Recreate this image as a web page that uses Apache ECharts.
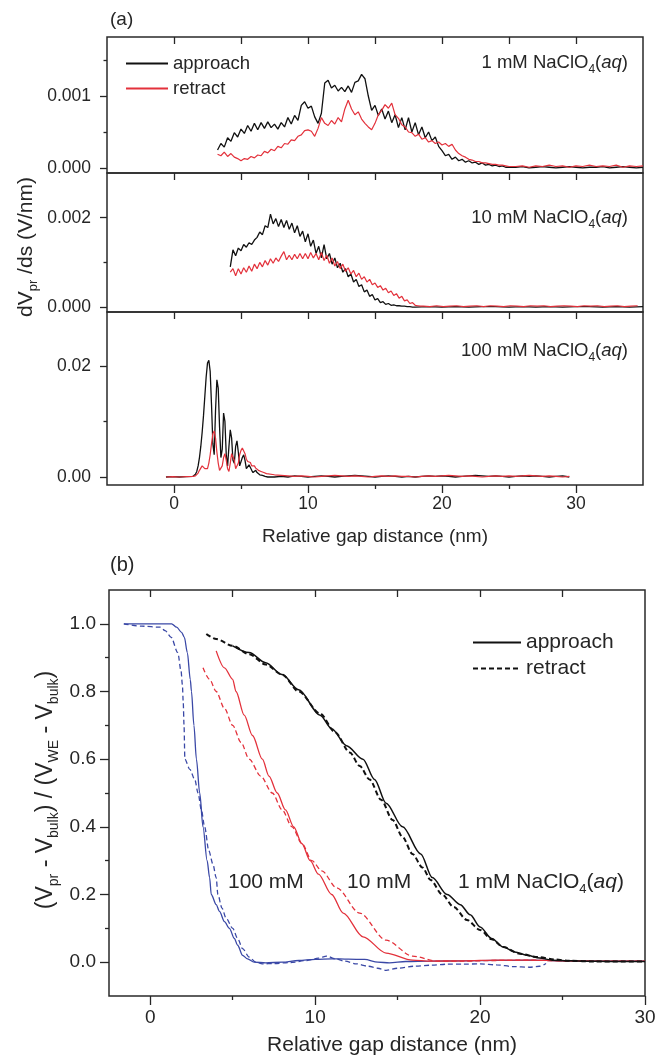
<!DOCTYPE html>
<html><head><meta charset="utf-8">
<script src="https://cdn.jsdelivr.net/npm/echarts@6/dist/echarts.min.js"></script>
<style>html,body{margin:0;padding:0;background:#fff}#c{width:655px;height:1057px}</style>
</head><body><div id="c"></div>
<script>
// ---------------- DATA ----------------
// Panel (a): dV/ds values. 1 mM & 10 mM in units of 1e-4 V/nm, 100 mM in units of 1e-3 V/nm
const U4 = 1e-4, U3 = 1e-3;
// 1 mM approach: x from 3.25 nm, step 0.25 nm
const mM1_appr = [2.5,3.4,2.9,4.2,3.7,4.9,4.3,5.4,4.8,5.9,5.1,6.2,5.3,6.3,5.5,6.4,5.6,6.1,5.4,6.3,5.7,7.0,6.1,7.3,6.6,8.7,9.2,8.3,8.6,7.1,6.2,7.6,11.8,12.2,11.1,11.5,10.7,11.2,10.6,11.4,10.5,11.9,12.1,13.0,12.4,10.0,8.0,8.7,7.3,8.2,6.8,7.9,6.3,7.4,5.6,7.0,5.3,7.0,5.0,6.3,4.6,5.7,4.2,5.0,3.8,4.3,3.0,2.4,1.7,1.9,1.2,1.5,1.0,1.2,0.8,1.0,0.7,0.8,0.5,0.7,0.4,0.5,0.3,0.4,0.2,0.3,0.1,0.1];
const mM1_apprTail = [0.1,0.2,0.0,0.1,0.2,0.1,0.0,0.1,0.2,0.1,0.0,0.1,0.1,0.2,0.0,0.1,0.2,0.1,0.0,0.1]; // x 25.5..35 step 0.5
// 1 mM retract: x from 3.25, step 0.25
const mM1_retr = [1.9,1.7,2.2,1.6,2.0,1.5,1.3,1.0,1.3,1.2,1.6,1.4,1.8,1.7,2.3,2.1,2.6,2.4,3.0,2.8,3.4,3.3,3.9,3.8,4.4,4.6,5.2,5.3,5.1,4.4,5.5,7.0,6.2,5.9,6.6,6.1,7.0,6.4,8.2,9.4,8.2,7.4,7.8,6.8,6.2,5.7,5.3,6.2,7.4,8.0,8.8,8.3,9.0,7.4,6.9,6.0,5.7,5.0,4.9,4.4,4.7,4.0,4.2,3.6,3.8,3.4,3.6,3.2,3.4,3.0,3.3,2.5,2.0,1.7,1.5,1.2,1.1,0.9,0.9,0.7,0.7,0.6,0.5,0.5,0.4,0.4,0.3,0.2];
const mM1_retrTail = [0.2,0.3,0.1,0.3,0.2,0.4,0.2,0.3,0.1,0.3,0.2,0.4,0.2,0.3,0.2,0.4,0.1,0.3,0.2,0.3]; // x 25.5..35 step 0.5
// 10 mM approach: x from 4.2, step 0.2
const mM10_appr = [9.0,12.8,11.5,13.2,12.6,14.0,13.4,14.4,14.0,15.0,15.6,16.8,16.2,18.2,17.8,20.8,18.6,19.8,18.0,19.6,17.8,19.4,17.4,18.8,16.6,18.2,15.8,17.0,14.6,16.4,13.6,15.0,12.0,13.6,11.0,14.0,10.8,12.0,9.6,11.0,8.8,9.8,7.8,8.6,6.8,7.4,5.6,6.2,4.6,5.0,3.4,3.8,2.4,2.8,1.6,1.9,1.0,1.2,0.6,0.8,0.4,0.5,0.3,0.3,0.2,0.2,0.1,0.1,0.0];
const mM10_apprTail = [0.0,0.1,0.0,0.1,0.0,0.1,0.1,0.0,0.1,0.0,0.1,0.0,0.1,0.1,0.0,0.1,0.0,0.1]; // x 18..35 step 1
// 10 mM retract: x from 4.2, step 0.2
const mM10_retr = [7.8,8.6,7.0,8.6,7.4,8.8,7.8,9.2,8.0,9.6,8.6,10.0,9.0,10.4,9.4,10.8,9.8,11.0,10.2,11.4,12.4,10.6,11.6,10.6,11.8,10.8,12.0,10.8,12.0,10.8,12.2,11.0,12.0,10.6,12.2,10.4,11.6,9.8,11.0,9.2,10.2,8.6,9.6,8.0,8.8,7.4,8.2,6.8,7.6,6.2,6.8,5.6,6.2,5.0,5.4,4.4,4.8,3.8,4.2,3.2,3.6,2.6,3.0,2.0,2.4,1.4,1.6,0.8,1.0,0.4,0.3,0.2];
const mM10_retrTail = [0.2,0.1,0.3,0.1,0.2,0.3,0.1,0.2,0.3,0.1,0.3,0.2,0.1,0.3,0.2,0.1,0.3,0.2,0.3,0.1,0.2,0.3,0.2,0.1,0.3,0.2,0.3,0.1,0.2,0.3,0.1,0.2,0.3]; // x 18.6..34.6 step 0.5
// 100 mM (units 1e-3): flat head points, then x from 1.5 step 0.1, then tail x 7.5.. step 0.5
const mM100_head = [[-0.6,0.0],[-0.1,0.05],[0.4,0.0],[0.9,0.05],[1.4,0.1]];
const mM100_appr = [0.2,0.5,1.0,2.0,3.5,5.5,8.0,11.0,14.5,18.0,20.5,21.0,19.0,13.0,6.0,4.0,12.0,17.5,16.0,9.0,3.5,5.0,11.5,10.0,4.0,2.0,5.5,8.5,7.0,3.0,2.5,5.5,6.5,4.5,2.0,2.0,3.5,4.0,3.0,1.5,1.5,2.2,2.0,1.2,0.8,1.0,1.2,0.8,0.5,0.4,0.5,0.3,0.2,0.1,0.0,0.0];
const mM100_apprTail = [0.0,0.1,0.0,0.2,0.1,0.0,0.1,0.2,0.1,0.0,0.1,0.2,0.3,0.2,0.1,0.0,0.1,0.2,0.1,0.0,0.1,0.0,0.1,0.2,0.1,0.2,0.1,0.0,0.1,0.2,0.3,0.2,0.1,0.2,0.1,0.0,0.1,0.2,0.1,0.2,0.1,0.0,0.1,0.2,0.0];
const mM100_retr = [0.1,0.2,0.4,0.7,1.2,1.6,2.0,2.2,1.5,1.2,1.5,2.5,4.0,6.0,7.8,8.3,7.0,4.5,2.5,1.2,1.0,2.0,3.5,4.2,3.0,1.5,1.0,2.5,4.2,4.5,3.0,1.5,1.3,2.5,4.0,4.8,5.2,5.0,4.2,3.2,2.8,3.0,2.6,2.0,1.8,2.0,1.6,1.3,1.2,1.3,1.0,0.8,0.8,0.7,0.6,0.6];
const mM100_retrTail = [0.4,0.3,0.2,0.1,0.2,0.1,0.0,0.1,0.2,0.3,0.2,0.1,0.2,0.1,0.0,0.1,0.2,0.1,0.2,0.1,0.1,0.0,0.1,0.2,0.1,0.2,0.3,0.2,0.1,0.2,0.1,0.0,0.1,0.2,0.1,0.2,0.1,0.2,0.3,0.2,0.1,0.2,0.1,0.0,0.1];

// Panel (b): normalized potential [x (nm), y]
const b1_appr = [[5.0,0.935],[6,0.915],[7,0.885],[8,0.85],[9,0.805],[10.3,0.73],[11.0,0.69],[11.9,0.64],[12.9,0.6],[13.6,0.54],[14.3,0.47],[15.3,0.4],[16.4,0.32],[17.1,0.25],[18.0,0.2],[18.8,0.17],[19.4,0.14],[20.0,0.104],[20.7,0.07],[21.4,0.045],[22.1,0.03],[22.9,0.02],[23.6,0.012],[24.4,0.006],[25.5,0.004],[26.4,0.003],[28,0.002],[30,0.002]];
const b1_retr = [[3.4,0.97],[4,0.955],[5,0.935],[6,0.91],[7,0.88],[8,0.85],[9,0.8],[10.3,0.735],[11.2,0.68],[12.1,0.62],[12.7,0.58],[13.3,0.54],[14.0,0.48],[14.7,0.42],[15.3,0.37],[15.9,0.32],[16.5,0.28],[17.0,0.243],[17.7,0.2],[18.4,0.163],[19.2,0.125],[20.0,0.095],[20.7,0.068],[21.4,0.045],[22.4,0.025],[23.5,0.015],[24.5,0.008],[25.4,0.004],[27,0.002],[30,0.002]];
const b10_appr = [[4.0,0.92],[4.5,0.87],[5.0,0.836],[5.2,0.8],[5.7,0.73],[6.2,0.67],[6.8,0.6],[7.2,0.55],[7.7,0.5],[8.2,0.45],[8.7,0.4],[9.2,0.35],[9.7,0.3],[10.2,0.26],[11.0,0.2],[11.7,0.145],[12.9,0.075],[14.3,0.027],[15.9,0.006],[17,0.003],[19,0.004],[21,0.006],[23,0.006],[25,0.004],[27,0.003],[30,0.003]];
const b10_retr = [[3.2,0.87],[3.6,0.836],[4.0,0.8],[4.5,0.75],[5.0,0.7],[5.5,0.65],[6.0,0.6],[6.7,0.55],[7.4,0.5],[8.0,0.45],[8.6,0.4],[9.2,0.35],[9.8,0.3],[10.4,0.27],[11.3,0.22],[12.7,0.145],[14.3,0.065],[15.9,0.018],[17.4,0.003],[19,0.003],[21,0.005],[23,0.006],[25,0.004],[27,0.003],[30,0.003]];
const b100_appr = [[-1.6,1.0],[1.3,1.0],[1.6,0.99],[1.9,0.975],[2.07,0.96],[2.25,0.915],[2.43,0.835],[2.5,0.8],[2.65,0.7],[2.8,0.6],[3.0,0.5],[3.2,0.4],[3.45,0.3],[3.6,0.25],[3.7,0.2],[4.0,0.17],[4.2,0.15],[4.5,0.12],[4.8,0.1],[5.1,0.07],[5.3,0.05],[5.6,0.02],[5.9,0.01],[6.3,0.0],[7,-0.002],[8,0.0],[9,0.005],[10,0.008],[11,0.01],[12,0.009],[13,0.008],[13.8,0.0],[14.5,-0.002],[15.5,0.002],[17,0.003],[19,0.004],[21,0.005],[23,0.006],[25,0.004],[27,0.003],[30,0.003]];
const b100_retr = [[-1.6,1.0],[-0.5,0.993],[0.6,0.99],[0.9,0.98],[1.27,0.96],[1.67,0.915],[1.87,0.86],[1.95,0.82],[2.0,0.77],[2.05,0.7],[2.1,0.6],[2.4,0.57],[2.7,0.54],[2.9,0.5],[3.1,0.45],[3.3,0.4],[3.55,0.33],[3.8,0.29],[4.0,0.25],[4.1,0.2],[4.35,0.16],[4.6,0.13],[5.0,0.1],[5.3,0.07],[5.6,0.04],[6.0,0.015],[6.4,0.0],[6.8,-0.005],[7.5,-0.004],[8.5,-0.001],[9.5,0.005],[10.2,0.012],[10.7,0.018],[11.2,0.01],[11.8,0.003],[12.5,-0.005],[13.2,-0.012],[13.8,-0.018],[14.3,-0.024],[15,-0.018],[16,-0.012],[17,-0.009],[18,-0.006],[19,-0.006],[20,-0.005],[21,-0.008],[22,-0.013],[23,-0.015],[23.6,-0.012],[24,-0.004]];

// Tick values
const xTicksA = [0,5,10,15,20,25,30];
const xMajor = [0,10,20,30];
const xMinor = [5,15,25];
const xTicksB = [0,5,10,15,20,25];
const yA1Major = [0,0.001], yA1Minor = [0.0005,0.0015];
const yA2Major = [0,0.002], yA2Minor = [0.001];
const yA3Major = [0,0.02], yA3Minor = [0.01];
const yBMajor = [0,0.2,0.4,0.6,0.8,1.0], yBMinor = [0.1,0.3,0.5,0.7,0.9];

// ---------------- BUILD ----------------
function onGrid(x0, dx, ys, unit) {
  return ys.map((v, i) => [Math.round((x0 + i * dx) * 1000) / 1000, v * unit]);
}
function pairs(ps, unit) { return ps.map(p => [p[0], p[1] * unit]); }

const FF = '"Liberation Sans", Arial, Helvetica, sans-serif';
const TC = '#262626';
const BLK = '#111111', RED = '#e3313b', BLU = '#3a48a6';

function topX(g, min, max, ticks) {
  return { type: 'value', gridIndex: g, position: 'top', min, max,
    axisLine: { show: false, onZero: false }, splitLine: { show: false },
    axisTick: { show: true, inside: true, length: 7, customValues: ticks, lineStyle: { color: TC, width: 1.3 } },
    axisLabel: { show: false } };
}
function botX(g, min, max, ticks, len, withLabels, fs, margin) {
  return { type: 'value', gridIndex: g, position: 'bottom', min, max,
    axisLine: { show: false, onZero: false }, splitLine: { show: false },
    axisTick: { show: true, inside: false, length: len, customValues: ticks, lineStyle: { color: TC, width: 1.3 } },
    axisLabel: withLabels ? { show: true, customValues: ticks, fontSize: fs, fontFamily: FF, color: TC, margin } : { show: false } };
}
function leftY(g, min, max, ticks, len, fmt, fs, margin) {
  return { type: 'value', gridIndex: g, position: 'left', min, max,
    axisLine: { show: false, onZero: false }, splitLine: { show: false },
    axisTick: { show: true, inside: false, length: len, customValues: ticks, lineStyle: { color: TC, width: 1.3 } },
    axisLabel: fmt ? { show: true, customValues: ticks, fontSize: fs, fontFamily: FF, color: TC, margin, formatter: fmt } : { show: false } };
}
function line(name, xi, yi, data, color, width, dash, smooth) {
  return { name, type: 'line', xAxisIndex: xi, yAxisIndex: yi, data, showSymbol: false, symbol: 'none',
    smooth: smooth ? 0.3 : false, smoothMonotone: 'x', animation: false,
    lineStyle: { color, width, type: dash || 'solid' }, itemStyle: { color } };
}
function rich(fs, sub) {
  return {
    n: { fontSize: fs, fontFamily: FF, fill: TC, lineHeight: fs + 7, verticalAlign: 'middle' },
    s: { fontSize: sub, fontFamily: FF, fill: TC, lineHeight: sub, verticalAlign: 'bottom' },
    i: { fontSize: fs, fontFamily: FF, fill: TC, fontStyle: 'italic', lineHeight: fs + 7, verticalAlign: 'middle' }
  };
}
function txt(x, y, text, fs, sub, align, rot) {
  return { type: 'text', x, y, rotation: rot || 0, silent: true,
    style: { text, rich: rich(fs, sub), align: align || 'left', verticalAlign: 'middle', fill: TC, fontSize: fs, fontFamily: FF } };
}
const gridBase = { show: true, borderColor: '#2a2a2a', borderWidth: 1.5, backgroundColor: 'transparent', containLabel: false, outerBoundsMode: 'none' };
const hiddenSymbol = { color: 'transparent', borderColor: 'transparent', borderWidth: 0, opacity: 0 };

const option = {
  backgroundColor: '#ffffff',
  animation: false,
  grid: [
    Object.assign({ left: 107, top: 37, width: 536, height: 136 }, gridBase),
    Object.assign({ left: 107, top: 173, width: 536, height: 139 }, gridBase),
    Object.assign({ left: 107, top: 312, width: 536, height: 173 }, gridBase),
    Object.assign({ left: 109, top: 590, width: 536, height: 406 }, gridBase)
  ],
  xAxis: [
    topX(0, -5, 35, xTicksA),
    topX(1, -5, 35, xTicksA),
    topX(2, -5, 35, xTicksA),
    botX(2, -5, 35, xMajor, 8, true, 17.5, 10),
    botX(2, -5, 35, xMinor, 4, false),
    topX(3, -2.5, 30, xTicksB),
    botX(3, -2.5, 30, xMajor, 9, true, 19, 12),
    botX(3, -2.5, 30, xMinor, 4, false)
  ],
  yAxis: [
    leftY(0, -0.00007, 0.00182, yA1Major, 7, v => v.toFixed(3), 17.5, 16),
    leftY(0, -0.00007, 0.00182, yA1Minor, 3.5),
    leftY(1, -0.00011, 0.003, yA2Major, 7, v => v.toFixed(3), 17.5, 16),
    leftY(1, -0.00011, 0.003, yA2Minor, 3.5),
    leftY(2, -0.00144, 0.0297, yA3Major, 7, v => v.toFixed(2), 17.5, 16),
    leftY(2, -0.00144, 0.0297, yA3Minor, 3.5),
    leftY(3, -0.1, 1.1, yBMajor, 9, v => v.toFixed(1), 19, 13),
    leftY(3, -0.1, 1.1, yBMinor, 4)
  ],
  legend: [
    { data: ['approach', 'retract'], orient: 'vertical', left: 125, top: 54, padding: 0, itemWidth: 42, itemHeight: 14, itemGap: 6,
      selectedMode: false, itemStyle: hiddenSymbol, textStyle: { fontSize: 18.5, fontFamily: FF, color: TC } },
    { data: ['approach (b)', 'retract (b)'], orient: 'vertical', left: 472, top: 632, padding: 0, itemWidth: 48, itemHeight: 14, itemGap: 5,
      selectedMode: false, itemStyle: hiddenSymbol, formatter: n => n.replace(' (b)', ''), textStyle: { fontSize: 21, fontFamily: FF, color: TC } }
  ],
  series: [
    line('approach', 0, 0, onGrid(3.25, 0.25, mM1_appr, U4).concat(onGrid(25.5, 0.5, mM1_apprTail, U4)), BLK, 1.3),
    line('retract', 0, 0, onGrid(3.25, 0.25, mM1_retr, U4).concat(onGrid(25.5, 0.5, mM1_retrTail, U4)), RED, 1.2),
    line('10 mM approach', 1, 2, onGrid(4.2, 0.2, mM10_appr, U4).concat(onGrid(18, 1, mM10_apprTail, U4)), BLK, 1.3),
    line('10 mM retract', 1, 2, onGrid(4.2, 0.2, mM10_retr, U4).concat(onGrid(18.6, 0.5, mM10_retrTail, U4)), RED, 1.2),
    line('100 mM approach', 2, 4, pairs(mM100_head, U3).concat(onGrid(1.5, 0.1, mM100_appr, U3), onGrid(7.5, 0.5, mM100_apprTail, U3)), BLK, 1.3),
    line('100 mM retract', 2, 4, pairs(mM100_head, U3).concat(onGrid(1.5, 0.1, mM100_retr, U3), onGrid(7.5, 0.5, mM100_retrTail, U3)), RED, 1.2),
    line('100 mM approach (b)', 6, 6, b100_appr, BLU, 1.3, 'solid', true),
    line('100 mM retract (b)', 6, 6, b100_retr, BLU, 1.3, [5, 3], true),
    line('10 mM approach (b)', 6, 6, b10_appr, RED, 1.3, 'solid', true),
    line('10 mM retract (b)', 6, 6, b10_retr, RED, 1.3, [5, 3], true),
    line('approach (b)', 6, 6, b1_appr, BLK, 1.5, 'solid', true),
    line('retract (b)', 6, 6, b1_retr, BLK, 2, [5, 3], true)
  ],
  graphic: [
    txt(110, 20, '{n|(a)}', 19, 12),
    txt(110, 565, '{n|(b)}', 20, 12),
    txt(628, 63, '{n|1 mM NaClO}{s|4}{n|(}{i|aq}{n|)}', 18.5, 12, 'right'),
    txt(628, 218, '{n|10 mM NaClO}{s|4}{n|(}{i|aq}{n|)}', 18.5, 12, 'right'),
    txt(628, 351, '{n|100 mM NaClO}{s|4}{n|(}{i|aq}{n|)}', 18.5, 12, 'right'),
    txt(375, 537, '{n|Relative gap distance (nm)}', 19, 12, 'center'),
    txt(26, 247, '{n|dV}{s|pr}{n| /ds (V/nm)}', 21, 13, 'center', Math.PI / 2),
    txt(228, 882, '{n|100 mM}', 21, 13),
    txt(347, 882, '{n|10 mM}', 21, 13),
    txt(458, 882, '{n|1 mM NaClO}{s|4}{n|(}{i|aq}{n|)}', 21, 13),
    txt(392, 1045, '{n|Relative gap distance (nm)}', 21, 13, 'center'),
    txt(46, 790, '{n|(V}{s|pr}{n| - V}{s|bulk}{n|) / (V}{s|WE}{n| - V}{s|bulk}{n|)}', 23, 14, 'center', Math.PI / 2)
  ]
};
const chart = echarts.init(document.getElementById('c'), null, { renderer: 'canvas', width: 655, height: 1057 });
chart.setOption(option);
</script></body></html>
